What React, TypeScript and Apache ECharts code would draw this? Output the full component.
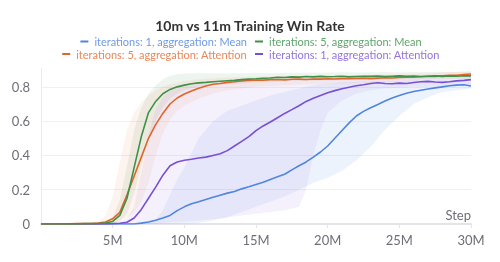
import React, { useEffect, useRef } from "react";
import * as echarts from "echarts";

const TITLE = "10m vs 11m Training Win Rate";
const SERIES_NAMES = [
  "iterations: 1, aggregation: Mean",
  "iterations: 5, aggregation: Mean",
  "iterations: 5, aggregation: Attention",
  "iterations: 1, aggregation: Attention",
];
const X_TICKS_M = [0, 5, 10, 15, 20, 25, 30];
const Y_TICKS = [0, 0.2, 0.4, 0.6, 0.8];

// step positions (millions) for the mean lines
const STEP_M = [
  0, 0.5, 1, 1.5, 2, 2.5, 3, 3.5, 4, 4.5, 5, 5.5, 6, 6.5, 7, 7.5, 8, 8.5, 9, 9.5,
  10, 10.5, 11, 11.5, 12, 12.5, 13, 13.5, 14, 14.5, 15, 15.5, 16, 16.5, 17, 17.5,
  18, 18.5, 19, 19.5, 20, 20.5, 21, 21.5, 22, 22.5, 23, 23.5, 24, 24.5, 25, 25.5,
  26, 26.5, 27, 27.5, 28, 28.5, 29, 29.5, 30,
];

const BLUE_MEAN = [
  0, 0, 0, 0, 0, 0, 0, 0, 0, 0, 0, 0, 0, 0, 0.005, 0.012, 0.022, 0.035, 0.05, 0.078,
  0.1, 0.118, 0.13, 0.143, 0.156, 0.168, 0.18, 0.19, 0.205, 0.217, 0.23, 0.243, 0.26, 0.275, 0.29, 0.316,
  0.34, 0.362, 0.39, 0.42, 0.455, 0.5, 0.545, 0.59, 0.63, 0.657, 0.678, 0.697, 0.717, 0.735, 0.75, 0.763,
  0.773, 0.78, 0.787, 0.794, 0.8, 0.806, 0.81, 0.812, 0.805,
];
const GREEN_MEAN = [
  0, 0, 0, 0.001, 0.001, 0.001, 0.002, 0.002, 0.003, 0.006, 0.015, 0.05, 0.15, 0.33, 0.51, 0.65, 0.715, 0.76, 0.785, 0.8,
  0.81, 0.818, 0.823, 0.826, 0.83, 0.833, 0.836, 0.838, 0.842, 0.845, 0.847, 0.85, 0.852, 0.856, 0.855, 0.858,
  0.857, 0.86, 0.858, 0.861, 0.859, 0.86, 0.862, 0.858, 0.86, 0.862, 0.861, 0.863, 0.86, 0.862, 0.864, 0.861,
  0.863, 0.86, 0.862, 0.864, 0.861, 0.863, 0.862, 0.865, 0.864,
];
const ORANGE_MEAN = [
  0, 0, 0, 0.001, 0.001, 0.002, 0.002, 0.003, 0.005, 0.012, 0.03, 0.068, 0.17, 0.28, 0.39, 0.5, 0.58, 0.645, 0.7, 0.735,
  0.758, 0.776, 0.792, 0.805, 0.815, 0.82, 0.826, 0.83, 0.835, 0.837, 0.84, 0.839, 0.842, 0.843, 0.841, 0.844,
  0.845, 0.843, 0.846, 0.845, 0.847, 0.846, 0.848, 0.847, 0.849, 0.85, 0.848, 0.851, 0.853, 0.852, 0.855, 0.857,
  0.856, 0.859, 0.862, 0.861, 0.865, 0.867, 0.868, 0.872, 0.875,
];
const PURPLE_MEAN = [
  0, 0, 0, 0, 0, 0, 0, 0, 0.001, 0.001, 0.002, 0.004, 0.01, 0.035, 0.085, 0.15, 0.215, 0.285, 0.34, 0.362,
  0.372, 0.378, 0.385, 0.39, 0.4, 0.41, 0.428, 0.455, 0.482, 0.51, 0.545, 0.572, 0.595, 0.62, 0.645, 0.667,
  0.69, 0.715, 0.733, 0.75, 0.765, 0.778, 0.789, 0.798, 0.806, 0.812, 0.82, 0.824, 0.82, 0.818, 0.822, 0.82,
  0.825, 0.83, 0.832, 0.828, 0.826, 0.83, 0.835, 0.838, 0.842,
];

// step positions (millions) for the min/max bands
const BAND_STEP_M = [
  0, 2, 4, 4.5, 5, 5.5, 6, 6.5, 7, 7.5, 8, 8.5, 9, 9.5, 10, 11, 12, 13, 14, 15, 16, 17, 18, 18.5,
  19, 19.5, 20, 21, 22, 23, 24, 25, 26, 27, 28, 29, 30,
];
const GREEN_LO = [
  0, 0, 0, 0, 0.003, 0.015, 0.06, 0.18, 0.34, 0.5, 0.6, 0.68, 0.73, 0.76, 0.78, 0.8, 0.81, 0.815, 0.82, 0.825,
  0.83, 0.832, 0.835, 0.836, 0.836, 0.837, 0.838, 0.84, 0.84, 0.842, 0.842, 0.843, 0.843, 0.845, 0.845, 0.846, 0.846,
];
const GREEN_HI = [
  0.001, 0.002, 0.005, 0.012, 0.04, 0.14, 0.34, 0.55, 0.68, 0.76, 0.81, 0.845, 0.865, 0.875, 0.878, 0.88, 0.88, 0.878,
  0.88, 0.882, 0.88, 0.882, 0.883, 0.882, 0.884, 0.883, 0.884, 0.885, 0.884, 0.885, 0.886, 0.885, 0.886, 0.886, 0.887,
  0.886, 0.888,
];
const ORANGE_LO = [
  0, 0, 0, 0.002, 0.005, 0.015, 0.035, 0.07, 0.13, 0.24, 0.4, 0.53, 0.61, 0.66, 0.69, 0.73, 0.76, 0.78, 0.79, 0.8,
  0.805, 0.81, 0.812, 0.814, 0.815, 0.816, 0.818, 0.82, 0.822, 0.825, 0.828, 0.832, 0.835, 0.84, 0.845, 0.848, 0.852,
];
const ORANGE_HI = [
  0.001, 0.003, 0.012, 0.05, 0.16, 0.36, 0.55, 0.65, 0.71, 0.75, 0.78, 0.8, 0.815, 0.825, 0.835, 0.845, 0.85, 0.855,
  0.858, 0.86, 0.862, 0.863, 0.865, 0.865, 0.866, 0.866, 0.867, 0.868, 0.869, 0.87, 0.872, 0.874, 0.877, 0.88, 0.884,
  0.888, 0.892,
];
const PURPLE_LO = [
  0, 0, 0, 0, 0, 0, 0, 0, 0, 0, 0.002, 0.005, 0.01, 0.012, 0.015, 0.02, 0.028, 0.038, 0.05, 0.06, 0.07, 0.08, 0.1,
  0.2, 0.4, 0.55, 0.65, 0.72, 0.76, 0.78, 0.79, 0.795, 0.8, 0.8, 0.8, 0.805, 0.81,
];
const PURPLE_HI = [
  0, 0.001, 0.002, 0.003, 0.006, 0.012, 0.03, 0.1, 0.3, 0.52, 0.67, 0.74, 0.78, 0.795, 0.805, 0.815, 0.82, 0.825,
  0.83, 0.835, 0.84, 0.845, 0.848, 0.85, 0.85, 0.852, 0.855, 0.858, 0.86, 0.86, 0.862, 0.864, 0.865, 0.866, 0.867,
  0.868, 0.87,
];
const BLUE_LO = [
  0, 0, 0, 0, 0, 0, 0, 0, 0, 0, 0, 0, 0, 0, 0.002, 0.006, 0.02, 0.04, 0.07, 0.1, 0.13, 0.16, 0.2, 0.22, 0.24,
  0.255, 0.27, 0.31, 0.37, 0.45, 0.55, 0.63, 0.7, 0.74, 0.77, 0.78, 0.79,
];
const BLUE_HI = [
  0, 0, 0, 0, 0, 0, 0.002, 0.005, 0.01, 0.015, 0.025, 0.08, 0.17, 0.26, 0.33, 0.5, 0.6, 0.66, 0.69, 0.72, 0.75,
  0.77, 0.79, 0.8, 0.81, 0.815, 0.82, 0.825, 0.83, 0.832, 0.835, 0.836, 0.838, 0.84, 0.842, 0.843, 0.845,
];

const LINE_COLORS = ["#5085e0", "#3f9147", "#e0652d", "#7a4fd3"];
const TEXT_COLORS = ["#6f9be6", "#5ea56b", "#e9875a", "#9374dc"];
const BAND_COLORS = [
  "rgba(80,133,224,0.10)",
  "rgba(63,145,71,0.09)",
  "rgba(224,101,45,0.08)",
  "rgba(122,79,211,0.08)",
];

const FONT = "Lato, 'Noto Sans', sans-serif";

export default function App() {
  const ref = useRef<HTMLDivElement>(null);
  useEffect(() => {
    if (!ref.current) return;
    const chart = echarts.init(ref.current, undefined, { renderer: "svg" });
    const means = [BLUE_MEAN, GREEN_MEAN, ORANGE_MEAN, PURPLE_MEAN];
    const bands: [number[], number[]][] = [
      [BLUE_LO, BLUE_HI],
      [GREEN_LO, GREEN_HI],
      [ORANGE_LO, ORANGE_HI],
      [PURPLE_LO, PURPLE_HI],
    ];
    const bandSeries = bands.map(([lo, hi], k) => ({
      type: "custom",
      name: "band-" + k,
      silent: true,
      clip: true,
      data: [[0, 0]],
      renderItem: (_p: any, api: any) => {
        const pts: number[][] = [];
        for (let i = 0; i < BAND_STEP_M.length; i++) pts.push(api.coord([BAND_STEP_M[i] * 1e6, hi[i]]));
        for (let i = BAND_STEP_M.length - 1; i >= 0; i--) pts.push(api.coord([BAND_STEP_M[i] * 1e6, lo[i]]));
        return { type: "polygon", shape: { points: pts }, style: { fill: BAND_COLORS[k] } };
      },
    }));
    const drawOrder = [0, 3, 2, 1];
    const lineSeries = drawOrder.map((k) => ({
      type: "line",
      name: SERIES_NAMES[k],
      showSymbol: false,
      symbol: "none",
      lineStyle: { width: 1.6, color: LINE_COLORS[k] },
      itemStyle: { color: LINE_COLORS[k] },
      data: STEP_M.map((s, i) => [s * 1e6, means[k][i]]),
    }));
    const legendPos = [
      { right: 253, top: 36 },
      { left: 255, top: 36 },
      { right: 253, top: 48.5 },
      { left: 255, top: 48.5 },
    ];
    chart.setOption({
      animation: false,
      title: {
        text: TITLE,
        left: "center",
        top: 13,
        textStyle: { fontFamily: FONT, fontSize: 14, fontWeight: "bold", color: "#333" },
      },
      legend: SERIES_NAMES.map((n, k) => ({
        ...legendPos[k],
        data: [n],
        icon: "rect",
        itemWidth: 8,
        itemHeight: 2,
        itemGap: 6,
        padding: 0,
        selectedMode: false,
        textStyle: {
          fontFamily: FONT,
          fontSize: 11,
          lineHeight: 11,
          color: TEXT_COLORS[k],
          padding: [0, 0, 0, 1],
        },
      })),
      grid: { left: 41, right: 29, top: 68, bottom: 38 },
      xAxis: {
        type: "value",
        min: X_TICKS_M[0] * 1e6,
        max: X_TICKS_M[X_TICKS_M.length - 1] * 1e6,
        interval: 5e6,
        axisLine: { show: true, lineStyle: { color: "#e4e4e8", width: 2 } },
        axisTick: { show: true, length: 4, lineStyle: { color: "#e4e4e8" } },
        splitLine: { show: false },
        axisLabel: {
          showMinLabel: false,
          fontFamily: FONT,
          fontSize: 13,
          color: "#6e6e78",
          margin: 9,
          formatter: (v: number) => (v === 0 ? "" : Math.round(v / 1e6) + "M"),
        },
      },
      yAxis: {
        type: "value",
        min: Y_TICKS[0],
        max: 0.91,
        interval: 0.2,
        axisLine: { show: true, lineStyle: { color: "#ececef", width: 1 } },
        axisTick: { show: false },
        splitLine: { show: true, showMaxLine: false, lineStyle: { color: "#f0f0f3" } },
        axisLabel: {
          showMaxLabel: false,
          fontFamily: FONT,
          fontSize: 13,
          color: "#6e6e78",
          margin: 11,
          formatter: (v: number) => (Y_TICKS.some((t) => Math.abs(t - v) < 1e-9) ? String(Math.round(v * 10) / 10) : ""),
        },
      },
      graphic: [
        {
          type: "text",
          right: 29,
          top: 208,
          style: { text: "Step", fontFamily: FONT, fontSize: 13, fill: "#6e6e78" },
        },
      ],
      series: [...bandSeries, ...lineSeries],
    });
    return () => chart.dispose();
  }, []);
  return <div ref={ref} style={{ position: "fixed", left: 0, top: 0, width: 500, height: 262 }} />;
}
